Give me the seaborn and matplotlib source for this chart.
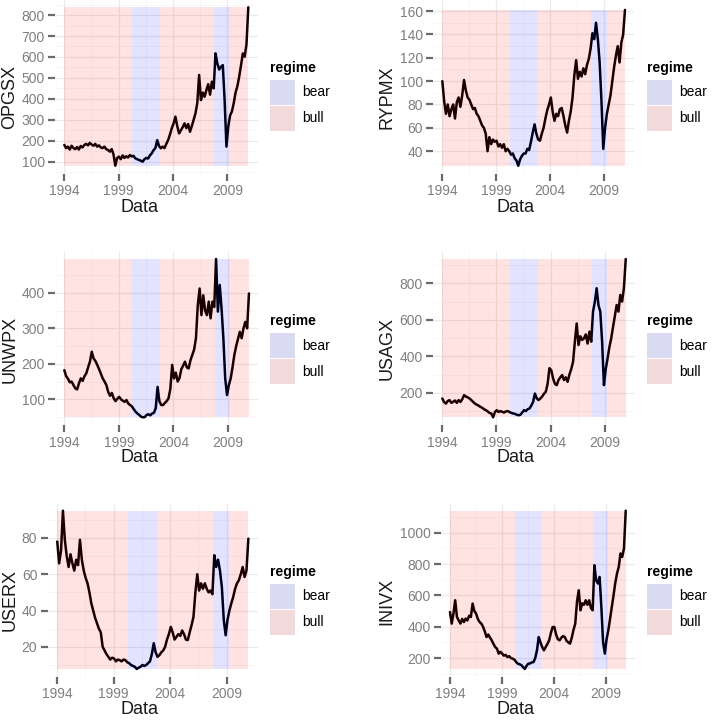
#!/usr/bin/env python3
"""Six fund price series with bear/bull regime shading, ggplot-like layout."""

import numpy as np
import pandas as pd

import matplotlib

matplotlib.use("Agg")
import matplotlib.pyplot as plt
from matplotlib.patches import Rectangle
import seaborn as sns


# bi-monthly closes, Jan 1994 .. Dec 2010
OPGSX = [180, 165, 172, 158, 176, 165,
         160, 170, 158, 175, 168, 180,
         185, 178, 190, 182, 176, 185,
         172, 178, 168, 165, 172, 160,
         156, 148, 160, 135, 81, 118,
         124, 112, 130, 118, 126, 120,
         132, 125, 128, 116, 112, 108,
         105, 100, 112, 118, 115, 130,
         140, 155, 165, 203, 175, 164,
         172, 165, 185, 203, 230, 260,
         283, 315, 270, 235, 250, 265,
         283, 260, 280, 243, 270, 300,
         331, 380, 514, 394, 430, 410,
         442, 470, 420, 482, 450, 617,
         569, 540, 553, 561, 394, 172,
         267, 320, 340, 379, 430, 460,
         506, 560, 617, 601, 660, 837]

RYPMX = [100, 83, 72, 80, 70, 76,
         80, 68, 82, 86, 78, 88,
         101, 92, 86, 84, 80, 76,
         77, 72, 70, 66, 62, 60,
         55, 40, 52, 46, 50, 48,
         49, 44, 46, 43, 46, 40,
         42, 40, 37, 38, 34, 32,
         27.5, 33, 36, 38, 38, 42,
         41, 48, 56, 63, 55, 50,
         49, 55, 60, 68, 75, 80,
         86, 74, 66, 72, 70, 76,
         77, 70, 62, 56, 66, 74,
         86, 105, 118, 102, 108, 104,
         111, 106, 114, 119, 128, 141,
         136, 150, 136, 116, 83, 42,
         60, 72, 80, 88, 100, 112,
         122, 130, 116, 133, 140, 161]

UNWPX = [182, 165, 158, 148, 150, 140,
         131, 128, 145, 159, 152, 165,
         173, 190, 206, 234, 215, 208,
         197, 185, 172, 159, 150, 140,
         121, 110, 118, 103, 95, 102,
         107, 100, 96, 93, 98, 88,
         84, 80, 72, 65, 60, 56,
         51, 49.5, 50, 56, 58, 55,
         60, 62, 75, 135, 95, 84,
         84, 90, 95, 103, 130, 197,
         159, 175, 150, 160, 185, 195,
         206, 190, 187, 210, 225, 240,
         272, 365, 412, 337, 393, 350,
         337, 375, 328, 375, 360, 495,
         347, 422, 356, 272, 159, 112,
         140, 159, 190, 225, 250, 270,
         290, 272, 300, 318, 300, 398]

USAGX = [169, 150, 141, 155, 160, 145,
         151, 158, 145, 160, 150, 165,
         187, 180, 175, 169, 160, 150,
         141, 135, 130, 123, 118, 110,
         105, 98, 90, 87, 66, 95,
         105, 95, 100, 96, 92, 98,
         100, 95, 90, 87, 85, 80,
         77, 80, 92, 105, 100, 110,
         114, 130, 150, 196, 170, 160,
         169, 180, 195, 206, 250, 335,
         324, 279, 250, 242, 270, 285,
         297, 270, 285, 260, 300, 330,
         370, 480, 580, 462, 510, 490,
         498, 520, 470, 535, 480, 645,
         699, 773, 680, 645, 480, 242,
         330, 388, 450, 498, 560, 620,
         681, 645, 736, 700, 773, 933]

USERX = [78, 66, 73, 95, 79, 70,
         64, 71, 66, 62, 68, 65,
         79, 68, 62, 58, 55, 50,
         44, 40, 36, 33, 30, 28,
         20, 18, 16, 14.5, 13, 14,
         13.6, 12, 13, 12.7, 12, 13,
         12.7, 11.5, 11, 10, 9.5, 9,
         7.8, 8.5, 9, 10, 9.5, 10,
         11, 12, 16, 22, 17, 14.5,
         15.4, 17, 18, 20, 24, 27,
         31, 28, 24, 25.5, 27, 26,
         29, 27, 24, 23.7, 28, 32,
         36.5, 50, 60, 51, 55, 52,
         55, 52, 50, 51, 49, 70.5,
         64, 68, 62, 53, 35, 26.4,
         35, 40, 44, 47.5, 52, 55,
         56.7, 60, 64, 58.5, 62, 79.6]

INIVX = [494, 420, 484, 569, 462, 440,
         420, 450, 430, 452, 440, 470,
         462, 548, 500, 484, 450, 430,
         420, 400, 370, 334, 350, 330,
         313, 290, 270, 260, 228, 240,
         228, 215, 220, 206, 212, 200,
         196, 190, 175, 164, 160, 155,
         142, 130, 150, 164, 165, 172,
         174, 200, 250, 334, 300, 270,
         249, 270, 290, 313, 360, 398,
         398, 350, 320, 313, 330, 340,
         334, 310, 300, 292, 330, 380,
         420, 560, 633, 505, 550, 540,
         569, 540, 569, 520, 505, 793,
         697, 676, 718, 526, 300, 228,
         320, 377, 450, 526, 600, 680,
         740, 782, 868, 846, 900, 1141]

FIRST_DATE = "1994-01-01"
LAST_DATE = "2010-12-05"

BEAR_STARTS = ["2000-04-01", "2007-10-20"]
BEAR_ENDS = ["2002-10-20", "2009-03-20"]

YEAR_TICKS = ["1994", "1999", "2004", "2009"]
YEAR_MINOR = ["1996-07-01", "2001-07-01", "2006-07-01"]

YTICKS_OPGSX = [100, 200, 300, 400, 500, 600, 700, 800]
YTICKS_RYPMX = [40, 60, 80, 100, 120, 140, 160]
YTICKS_UNWPX = [100, 200, 300, 400]
YTICKS_USAGX = [200, 400, 600, 800]
YTICKS_USERX = [20, 40, 60, 80]
YTICKS_INIVX = [200, 400, 600, 800, 1000]

REGIMES = ["bear", "bull"]

W, H = 712, 726

# fund, values, y ticks, axes box px (left, top, right, bottom),
# legend origin px, x-label centre px, y-label centre px
PANELS = [
    ("OPGSX", OPGSX, YTICKS_OPGSX, (55.1, -0.6, 257.5, 173.6), (270, 68), (139, 208), (10, 97)),
    ("RYPMX", RYPMX, YTICKS_RYPMX, (433.2, -0.6, 634.1, 173.6), (647, 68), (516, 208), (387, 97)),
    ("UNWPX", UNWPX, YTICKS_UNWPX, (55.1, 251.1, 258.2, 425.2), (270, 321), (139, 458), (10, 349)),
    ("USAGX", USAGX, YTICKS_USAGX, (433.1, 251.1, 634.9, 425.2), (647, 321), (516, 458), (387, 348)),
    ("USERX", USERX, YTICKS_USERX, (47.7, 502.8, 257.9, 676.9), (270, 572), (139, 710), (10, 600)),
    ("INIVX", INIVX, YTICKS_INIVX, (441.2, 502.8, 634.5, 676.9), (647, 572), (516, 710), (387, 601)),
]

FILL = {"bear": "blue", "bull": "red"}
KEY = {"bear": "#dadaf3", "bull": "#f3dada"}
GREY = "#7f7f7f"
TICK_GREY = "#6a6a6a"


def configure_style():
    sns.set_theme(style="white")
    plt.rcParams.update(
        {
            "axes.facecolor": "white",
            "axes.edgecolor": "white",
            "axes.linewidth": 0,
            "xtick.labelsize": 10,
            "ytick.labelsize": 10,
        }
    )
    plt.rcParams["font.family"] = ["Liberation Sans", "DejaVu Sans"]


def to_fig(x, y):
    return x / W, 1 - y / H


def draw_legend(fig, x, y):
    fig.text(*to_fig(x, y), "regime", fontsize=10, fontweight="bold", ha="left", va="center", color="black")
    top = y + 12
    for regime in REGIMES:
        fx, fy = to_fig(x, top + 25)
        fig.add_artist(
            Rectangle((fx, fy), 25 / W, 25 / H, transform=fig.transFigure,
                      facecolor=KEY[regime], edgecolor="none")
        )
        fig.text(*to_fig(x + 32, top + 12.5), regime, fontsize=10, ha="left", va="center", color="black")
        top += 26


def draw_panel(fig, name, values, yticks, box, legend_xy, xlab_xy, ylab_xy):
    left, top, right, bottom = box
    ax = fig.add_axes([left / W, 1 - bottom / H, (right - left) / W, (bottom - top) / H])
    dates = pd.date_range(FIRST_DATE, LAST_DATE, periods=len(values))
    df = pd.DataFrame({"Data": dates, name: values})

    sns.lineplot(data=df, x="Data", y=name, color="black", linewidth=1.8, ax=ax, zorder=2)

    # regime rectangles span the data range, drawn over the line like ggplot's alpha rects
    lo, hi = df[name].min(), df[name].max()
    d0, d1 = dates[0], dates[-1]
    bear = list(zip(pd.to_datetime(BEAR_STARTS), pd.to_datetime(BEAR_ENDS)))
    edges = [d0] + [e for pair in bear for e in pair] + [d1]
    for i in range(len(edges) - 1):
        regime = "bull" if i % 2 == 0 else "bear"
        ax.fill_between([edges[i], edges[i + 1]], lo, hi, color=FILL[regime],
                        alpha=0.11, linewidth=0, zorder=3)

    xr = (d1 - d0) * 0.05
    ax.set_xlim(d0 - xr, d1 + xr)
    yr = (hi - lo) * 0.05
    ax.set_ylim(lo - yr, hi + yr)

    ax.set_xticks(pd.to_datetime([f"{y}-01-01" for y in YEAR_TICKS]))
    ax.set_xticklabels(YEAR_TICKS)
    ax.set_xticks(pd.to_datetime(YEAR_MINOR), minor=True)
    ax.set_yticks(yticks)
    ax.set_yticklabels([str(t) for t in yticks])
    step = yticks[1] - yticks[0]
    ax.set_yticks([t + step / 2 for t in [yticks[0] - step] + yticks], minor=True)
    ax.grid(which="major", color="#ebebeb", linewidth=0.9)
    ax.grid(which="minor", color="#f4f4f4", linewidth=0.5)
    ax.set_axisbelow(True)
    ax.tick_params(which="major", direction="out", length=5, width=1.6, color=TICK_GREY,
                   labelcolor=GREY, labelsize=10, pad=2.5, bottom=True, left=True)
    ax.tick_params(which="minor", bottom=False, left=False)
    for sp in ax.spines.values():
        sp.set_visible(False)

    w, h = right - left, bottom - top
    ax.set_xlabel("Data", fontsize=13, color="#1a1a1a")
    ax.set_ylabel(name, fontsize=13, color="#1a1a1a")
    ax.xaxis.label.set_va("center")
    ax.yaxis.label.set_va("center")
    ax.xaxis.set_label_coords((xlab_xy[0] - left) / w, (bottom - xlab_xy[1]) / h)
    ax.yaxis.set_label_coords((ylab_xy[0] - left) / w, (bottom - ylab_xy[1]) / h)

    draw_legend(fig, *legend_xy)


def main():
    configure_style()
    fig = plt.figure(figsize=(W / 100, H / 100), dpi=100)
    for panel in PANELS:
        draw_panel(fig, *panel)
    fig.savefig("out.png", dpi=100, facecolor="white")
    plt.close(fig)


if __name__ == "__main__":
    main()
